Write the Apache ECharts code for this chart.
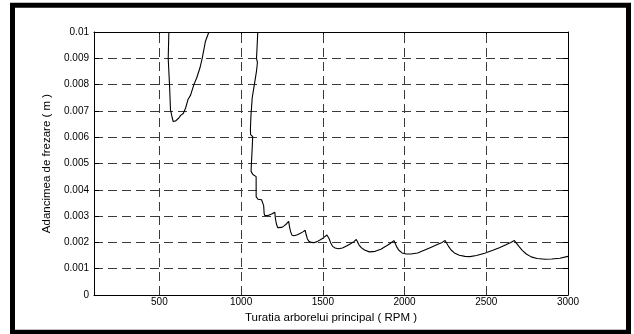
<!DOCTYPE html>
<html>
<head>
<meta charset="utf-8">
<script src="https://cdn.jsdelivr.net/npm/echarts@6/dist/echarts.min.js"></script>
<style>
html,body{margin:0;padding:0;background:#fff;}
#c{width:634px;height:334px;}
</style>
</head>
<body>
<div id="c"></div>
<script>
// Data
var rpmA = [558, 556, 554, 558, 562, 568, 573, 579, 584, 589, 595, 600, 605, 612, 619, 630, 646, 660, 675, 691, 711, 728, 748, 762, 782, 803];
var depthA = [0.0100, 0.0095, 0.0090, 0.0085, 0.0080, 0.00705, 0.0069, 0.00673, 0.0066, 0.00667, 0.00657, 0.00662, 0.00667, 0.00665, 0.00673, 0.00683, 0.0069, 0.0071, 0.00743, 0.0076, 0.0080, 0.00825, 0.00863, 0.0090, 0.00965, 0.0100];

var rpmB = [1102, 1096, 1094, 1100, 1094, 1081, 1068, 1060, 1057, 1058, 1066, 1071, 1068, 1063, 1061, 1063, 1072, 1082, 1092, 1092, 1092, 1097, 1103, 1112, 1125, 1133, 1138, 1141, 1145, 1155, 1165, 1175, 1190, 1200, 1206, 1210, 1216, 1224, 1235, 1250, 1265, 1280, 1291, 1296, 1303, 1312, 1325, 1340, 1360, 1378, 1392, 1398, 1405, 1415, 1430, 1445, 1465, 1485, 1505, 1525, 1532, 1538, 1548, 1560, 1575, 1595, 1620, 1645, 1670, 1690, 1705, 1712, 1722, 1735, 1755, 1785, 1820, 1855, 1890, 1915, 1935, 1942, 1952, 1965, 1985, 2010, 2040, 2080, 2120, 2160, 2200, 2230, 2248, 2256, 2268, 2285, 2305, 2335, 2370, 2400, 2440, 2490, 2540, 2580, 2620, 2650, 2672, 2682, 2700, 2720, 2745, 2775, 2810, 2860, 2900, 2950, 3000];
var depthB = [0.0100, 0.0092, 0.0090, 0.00885, 0.0085, 0.0080, 0.0075, 0.0068, 0.0063, 0.0061, 0.00605, 0.00602, 0.0056, 0.0050, 0.0047, 0.00463, 0.00458, 0.00454, 0.0045, 0.0041, 0.00374, 0.00368, 0.00364, 0.00362, 0.00362, 0.0036, 0.0034, 0.0031, 0.00302, 0.0030, 0.00302, 0.00305, 0.00309, 0.00312, 0.00315, 0.0029, 0.0027, 0.00256, 0.00254, 0.00257, 0.00264, 0.00272, 0.0028, 0.0026, 0.0024, 0.00227, 0.00225, 0.00228, 0.00234, 0.0024, 0.00246, 0.0023, 0.00214, 0.00204, 0.0020, 0.00199, 0.00203, 0.0021, 0.00218, 0.00228, 0.0023, 0.00215, 0.00198, 0.00185, 0.00179, 0.00176, 0.00179, 0.00186, 0.00195, 0.00203, 0.00211, 0.00202, 0.0019, 0.0018, 0.00171, 0.00164, 0.00166, 0.00174, 0.00187, 0.00197, 0.00207, 0.00198, 0.00183, 0.0017, 0.0016, 0.00156, 0.00156, 0.0016, 0.0017, 0.00181, 0.00192, 0.0020, 0.00207, 0.0020, 0.00186, 0.00171, 0.0016, 0.00151, 0.00147, 0.00146, 0.0015, 0.00159, 0.0017, 0.0018, 0.00191, 0.0020, 0.00207, 0.0020, 0.00185, 0.0017, 0.00156, 0.00145, 0.00139, 0.00136, 0.00137, 0.0014, 0.00147];

var xTicks = [500, 1000, 1500, 2000, 2500, 3000];
var xGrid = [500, 1000, 1500, 2000, 2500];
var xMin = 100, xMax = 3000;
var yMin = 0, yMax = 0.01, yStep = 0.001;
var xTitle = 'Turatia arborelui principal ( RPM )';
var yTitle = 'Adancimea de frezare ( m )';

function pairs(xs, ys) { return xs.map(function (x, i) { return [x, ys[i]]; }); }

var FONT = 'Liberation Sans, Arial, sans-serif';
var dash = { color: '#3a3a3a', width: 1, type: [9, 5] };

var chart = echarts.init(document.getElementById('c'), null, { renderer: 'canvas' });
chart.setOption({
  animation: false,
  backgroundColor: '#fff',
  grid: { left: 94, right: 66, top: 32, bottom: 39, containLabel: false },
  xAxis: [
    {
      type: 'value', min: xMin, max: xMax, position: 'bottom',
      name: xTitle, nameLocation: 'middle', nameGap: 11,
      nameTextStyle: { fontFamily: FONT, fontSize: 11.5, color: '#000' },
      axisLine: { show: true, onZero: false, lineStyle: { color: '#000', width: 1 } },
      axisTick: { show: true, inside: true, length: 5, customValues: xTicks, lineStyle: { color: '#000' } },
      axisLabel: { show: true, customValues: xTicks, fontFamily: FONT, fontSize: 10, color: '#000', margin: 2,
        formatter: function (v) { return String(v); } },
      splitLine: { show: false }
    },
    {
      type: 'value', min: xMin, max: xMax, position: 'top',
      axisLine: { show: true, onZero: false, lineStyle: { color: '#000', width: 1 } },
      axisTick: { show: true, inside: true, length: 5, customValues: xTicks, lineStyle: { color: '#000' } },
      axisLabel: { show: false },
      splitLine: { show: false }
    }
  ],
  yAxis: [
    {
      type: 'value', min: yMin, max: yMax, interval: yStep, position: 'left',
      name: yTitle, nameLocation: 'middle', nameGap: 37, nameRotate: 90,
      nameTextStyle: { fontFamily: FONT, fontSize: 11.5, color: '#000' },
      axisLine: { show: true, onZero: false, lineStyle: { color: '#000', width: 1 } },
      axisTick: { show: true, inside: true, length: 5, lineStyle: { color: '#000' } },
      axisLabel: { fontFamily: FONT, fontSize: 10, color: '#000', margin: 5 },
      splitLine: { show: true, lineStyle: dash }
    },
    {
      type: 'value', min: yMin, max: yMax, interval: yStep, position: 'right',
      axisLine: { show: true, onZero: false, lineStyle: { color: '#000', width: 1 } },
      axisTick: { show: true, inside: true, length: 5, lineStyle: { color: '#000' } },
      axisLabel: { show: false },
      splitLine: { show: false }
    }
  ],
  series: [
    {
      type: 'line', data: [], silent: true, z: 1,
      markLine: {
        silent: true, symbol: ['none', 'none'], label: { show: false },
        lineStyle: dash, animation: false,
        data: xGrid.map(function (v) { return { xAxis: v }; })
      }
    },
    {
      type: 'line', data: pairs(rpmA, depthA), showSymbol: false, clip: true, z: 3,
      lineStyle: { color: '#000', width: 1.1 }
    },
    {
      type: 'line', data: pairs(rpmB, depthB), showSymbol: false, clip: true, z: 3,
      lineStyle: { color: '#000', width: 1.1 }
    }
  ],
  graphic: [
    { type: 'rect', shape: { x: 12.5, y: 5.3, width: 616, height: 327 }, style: { fill: 'none', stroke: '#000', lineWidth: 5 }, z: 10 }
  ]
});
</script>
</body>
</html>
